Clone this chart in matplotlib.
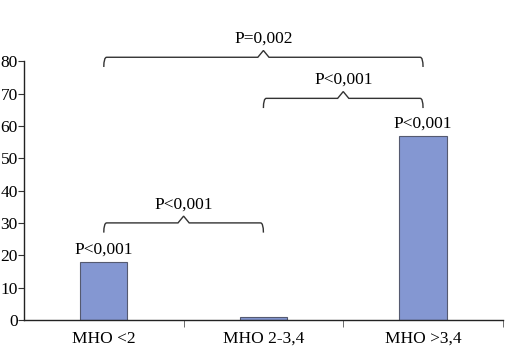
import matplotlib
matplotlib.use("Agg")
import matplotlib.pyplot as plt
from matplotlib.path import Path
from matplotlib.patches import PathPatch

categories = ["МНО <2", "МНО 2-3,4", "МНО >3,4"]
values = [18, 1, 57]
bar_labels = ["P<0,001", "", "P<0,001"]
# brackets: (from category, to category, line level, label)
brackets = [(0, 1, 30, "P<0,001"), (1, 2, 68.5, "P<0,001"), (0, 2, 81.2, "P=0,002")]
yticks = [0, 10, 20, 30, 40, 50, 60, 70, 80]

plt.rcParams['font.family'] = ['Liberation Serif', 'DejaVu Serif']
FS = 12.5

fig = plt.figure(figsize=(5.1, 3.64), dpi=100)
ax = fig.add_axes([0.047, 0.121, 0.939, 0.711])

x = list(range(len(categories)))
ax.bar(x, values, width=0.295, color='#8497D2', edgecolor='#555a70', linewidth=0.8, zorder=2)

for xi, v, lab in zip(x, values, bar_labels):
    if lab:
        ax.text(xi, v + 1.2, lab, ha='center', va='bottom', fontsize=FS)

def brace(ax, x0, x1, y, drop=3.0, rise=2.1, r=0.018, pw=0.035):
    xm = (x0 + x1) / 2
    verts = [(x0, y - drop), (x0, y), (x0 + r, y),
             (xm - pw, y), (xm, y + rise), (xm + pw, y),
             (x1 - r, y), (x1, y), (x1, y - drop)]
    codes = [Path.MOVETO, Path.CURVE3, Path.CURVE3,
             Path.LINETO, Path.LINETO, Path.LINETO,
             Path.LINETO, Path.CURVE3, Path.CURVE3]
    p = PathPatch(Path(verts, codes), fill=False, edgecolor='#333333', lw=1.0, clip_on=False)
    ax.add_patch(p)

for a, b, lvl, lab in brackets:
    brace(ax, a, b, lvl)
    ax.text((a + b) / 2, lvl + 5.8, lab, ha='center', va='center', fontsize=FS, clip_on=False)

ax.set_xlim(-0.5, 2.5)
ax.set_ylim(0, 80)
ax.set_yticks(yticks)
ax.set_yticklabels([str(t) for t in yticks], fontsize=FS)
ax.set_xticks(x)
ax.set_xticklabels(categories, fontsize=FS)
ax.set_xticks([0.5, 1.5, 2.5], minor=True)
ax.tick_params(axis='x', which='major', length=0, pad=8)
ax.tick_params(axis='x', which='minor', length=5, direction='out', color='#555555')
ax.tick_params(axis='y', length=4, direction='out', pad=0.5, color='#333333')
for s in ['top', 'right']:
    ax.spines[s].set_visible(False)
for s in ['left', 'bottom']:
    ax.spines[s].set_linewidth(1.0)
    ax.spines[s].set_color('#222222')

fig.savefig('out.png', dpi=100)
